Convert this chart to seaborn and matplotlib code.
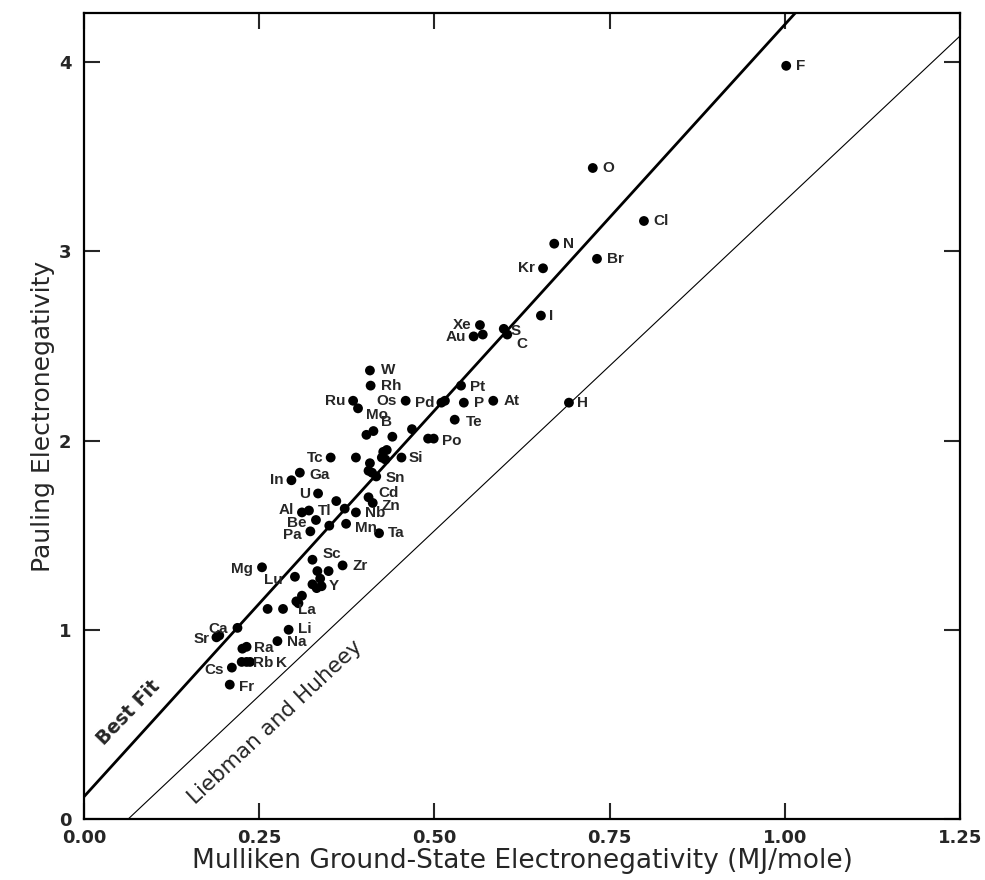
import numpy as np
import matplotlib
matplotlib.use('Agg')
import matplotlib.pyplot as plt
import seaborn as sns
from matplotlib.ticker import FormatStrFormatter

# element symbols ('' = unlabeled point)
names = ['F', 'O', 'Cl', 'N', 'Br', 'Kr', 'I', 'Xe', 'Au', '', 'S', 'C', 'Pt', 'Pd', '', 'P', 'At', 'H', 'Te',
         'Po', '', 'W', 'Rh', 'Ru', 'Mo', 'Os', '', 'B', '', '', 'Tc', '', '', '', '', '', 'Si', '', '', '',
         'Sn', 'Ga', 'In', 'U', 'Cd', 'Zn', '', '', 'Al', 'Tl', 'Nb', 'Be', '', 'Mn', 'Pa', 'Ta', 'Sc', 'Zr',
         'Mg', 'Lu', '', '', 'Y', '', '', '', '', '', '', '', 'La', 'Ca', 'Sr', '', 'Li', 'Na', 'Ra', '',
         'Rb', '', 'K', 'Cs', 'Fr']
# Mulliken ground-state electronegativity (MJ/mole)
mulliken = [1.002, 0.726, 0.799, 0.671, 0.732, 0.655, 0.652, 0.565, 0.556, 0.569, 0.599, 0.604, 0.538, 0.510,
            0.515, 0.542, 0.584, 0.692, 0.529, 0.499, 0.491, 0.408, 0.409, 0.384, 0.391, 0.459, 0.403, 0.413,
            0.440, 0.468, 0.352, 0.388, 0.427, 0.432, 0.425, 0.430, 0.453, 0.408, 0.406, 0.411, 0.417, 0.308,
            0.296, 0.334, 0.406, 0.412, 0.360, 0.372, 0.311, 0.321, 0.388, 0.331, 0.350, 0.374, 0.323, 0.421,
            0.326, 0.369, 0.254, 0.301, 0.333, 0.349, 0.339, 0.337, 0.326, 0.332, 0.311, 0.303, 0.306, 0.262,
            0.284, 0.219, 0.189, 0.193, 0.292, 0.276, 0.232, 0.226, 0.225, 0.232, 0.237, 0.211, 0.208]
# Pauling electronegativity
pauling = [3.98, 3.44, 3.16, 3.04, 2.96, 2.91, 2.66, 2.61, 2.55, 2.56, 2.59, 2.56, 2.29, 2.20,
           2.21, 2.20, 2.21, 2.20, 2.11, 2.01, 2.01, 2.37, 2.29, 2.21, 2.17, 2.21, 2.03, 2.05,
           2.02, 2.06, 1.91, 1.91, 1.94, 1.95, 1.91, 1.90, 1.91, 1.88, 1.84, 1.83, 1.81, 1.83,
           1.79, 1.72, 1.70, 1.67, 1.68, 1.64, 1.62, 1.63, 1.62, 1.58, 1.55, 1.56, 1.52, 1.51,
           1.37, 1.34, 1.33, 1.28, 1.31, 1.31, 1.23, 1.27, 1.24, 1.22, 1.18, 1.15, 1.14, 1.11,
           1.11, 1.01, 0.96, 0.97, 1.00, 0.94, 0.91, 0.90, 0.83, 0.83, 0.83, 0.80, 0.71]

# straight lines: (intercept, slope)
best_fit = (0.118, 4.08)
liebman_huheey = (-0.220, 3.486)

x_ticks = [0.0, 0.25, 0.5, 0.75, 1.0, 1.25]
y_ticks = [0, 1, 2, 3, 4]

# label offsets in pixels (dx, dy, ha)
offsets = {
    'F': (10, 0, 'left'), 'O': (10, 0, 'left'), 'Cl': (9, 0, 'left'), 'N': (9, 0, 'left'),
    'Br': (10, 0, 'left'), 'Kr': (-8, 0, 'right'), 'I': (8, 0, 'left'), 'Xe': (-8, 0, 'right'),
    'Au': (-8, -1, 'right'), 'S': (7, -2, 'left'), 'C': (9, -9, 'left'), 'Pt': (9, -1, 'left'),
    'Pd': (-7, 0, 'right'), 'P': (10, 0, 'left'), 'At': (10, 0, 'left'), 'H': (8, 0, 'left'),
    'Te': (11, -2, 'left'), 'Po': (8, -2, 'left'), 'W': (11, 0, 'left'), 'Rh': (10, 0, 'left'),
    'Ru': (-8, 0, 'right'), 'Mo': (8, -7, 'left'), 'Os': (-9, 0, 'right'), 'B': (8, 9, 'left'),
    'Tc': (-7, 0, 'right'), 'Si': (7, 0, 'left'), 'Sn': (9, -2, 'left'), 'Ga': (10, -2, 'left'),
    'In': (-8, 0, 'right'), 'U': (-8, -1, 'right'), 'Cd': (10, 4, 'left'), 'Zn': (9, -3, 'left'),
    'Al': (-8, 2, 'right'), 'Tl': (9, 0, 'left'), 'Nb': (9, -1, 'left'), 'Be': (-9, -3, 'right'),
    'Mn': (9, -4, 'left'), 'Pa': (-9, -4, 'right'), 'Ta': (9, 0, 'left'), 'Sc': (10, 6, 'left'),
    'Zr': (10, -1, 'left'), 'Mg': (-9, -2, 'right'), 'Lu': (-12, -3, 'right'), 'Y': (7, 0, 'left'),
    'La': (15, -1, 'left'), 'Ca': (-10, -1, 'right'), 'Sr': (-7, -2, 'right'), 'Li': (9, 1, 'left'),
    'Na': (10, -1, 'left'), 'Ra': (7, -1, 'left'), 'Rb': (11, -1, 'left'), 'K': (26, -1, 'left'),
    'Cs': (-8, -2, 'right'), 'Fr': (9, -2, 'left'),
}

sns.set_style('ticks')
plt.rcParams['font.family'] = ['DejaVu Sans']

fig = plt.figure(figsize=(9.85, 8.8), dpi=100)
ax = fig.add_axes([84 / 985, 61 / 880, 876 / 985, 806 / 880])

sns.scatterplot(x=mulliken, y=pauling, color='black', s=50, edgecolor='none', ax=ax, zorder=3)

xs = np.array([0.0, 1.25])
ax.plot(xs, best_fit[0] + best_fit[1] * xs, color='black', lw=2.0, zorder=2)
ax.plot(xs, liebman_huheey[0] + liebman_huheey[1] * xs, color='black', lw=0.8, zorder=2)

for name, x, y in zip(names, mulliken, pauling):
    if not name:
        continue
    dx, dy, ha = offsets[name]
    ax.annotate(name, (x, y), xytext=(dx, dy), textcoords='offset pixels', ha=ha, va='center',
                fontsize=11, fontweight='bold', family='Liberation Sans')

ax.text(0.064, 0.563, 'Best Fit', rotation=46, rotation_mode='anchor', ha='center', va='center',
        fontsize=13.5, fontweight='bold')
ax.text(0.2725, 0.513, 'Liebman and Huheey', rotation=43, rotation_mode='anchor', ha='center',
        va='center', fontsize=15.5)

ax.set_xlim(0, 1.25)
ax.set_ylim(0, 4.259)
ax.set_xticks(x_ticks)
ax.set_yticks(y_ticks)
ax.xaxis.set_major_formatter(FormatStrFormatter('%.2f'))
ax.tick_params(direction='in', length=11.5, width=1.5, top=True, right=True, labelsize=13)
ax.tick_params(axis='x', pad=7)
ax.tick_params(axis='y', pad=9)
for lab in ax.get_xticklabels() + ax.get_yticklabels():
    lab.set_fontweight('bold')
for sp in ax.spines.values():
    sp.set_linewidth(1.6)
    sp.set_color('black')

ax.set_xlabel('Mulliken Ground-State Electronegativity (MJ/mole)', fontsize=19, labelpad=1)
ax.set_ylabel('Pauling Electronegativity', fontsize=18, labelpad=3)

fig.savefig('out.png', dpi=100)
